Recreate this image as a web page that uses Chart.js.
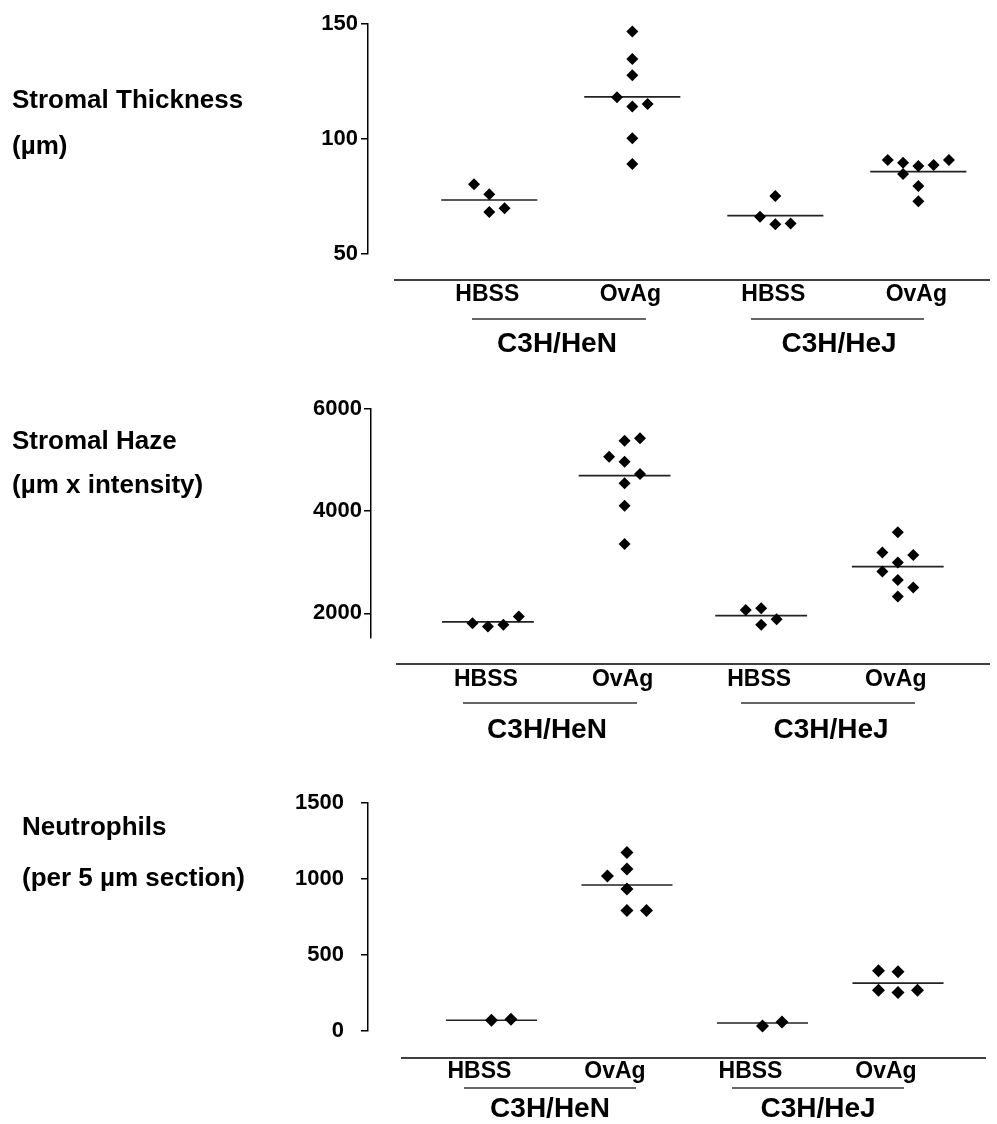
<!DOCTYPE html>
<html>
<head>
<meta charset="utf-8">
<script src="https://cdn.jsdelivr.net/npm/chart.js@4.4.1/dist/chart.umd.min.js"></script>
<style>
  html, body { margin: 0; padding: 0; background: #fff; }
  #wrap { position: relative; width: 997px; height: 1124px; }
  #wrap canvas { position: absolute; left: 0; top: 0; }
</style>
</head>
<body>
<div id="wrap">
  <canvas id="thicknessChart" width="997" height="1124"></canvas>
  <canvas id="hazeChart" width="997" height="1124"></canvas>
  <canvas id="neutrophilChart" width="997" height="1124"></canvas>
</div>
<script>
// groups along the x axis
const treatments = ["HBSS", "OvAg", "HBSS", "OvAg"];
const strains = ["C3H/HeN", "C3H/HeJ"];

// stromal thickness (µm)
const thicknessTicks = [50, 100, 150];
const thicknessValues = [
  [80.3, 76.0, 68.3, 69.9],
  [146.7, 134.8, 127.7, 118.1, 114.1, 115.2, 100.3, 89.1],
  [75.2, 66.2, 62.9, 63.3],
  [90.9, 89.7, 88.3, 88.7, 90.9, 84.8, 79.6, 72.9],
];
const thicknessColumns = [
  [-1, 0, 0, 1],
  [0, 0, 0, -1, 0, 1, 0, 0],
  [0, -1, 0, 1],
  [-2, -1, 0, 1, 2, -1, 0, 0],
];
const thicknessMeans = [73.5, 118.3, 66.7, 85.8];

// stromal haze (µm x intensity)
const hazeTicks = [2000, 4000, 6000];
const hazeValues = [
  [1806, 1740, 1773, 1936],
  [5380, 5426, 5067, 4969, 4728, 4545, 4108, 3358],
  [2066, 2099, 1773, 1884],
  [3587, 3188, 3143, 2992, 2816, 2654, 2503, 2327],
];
const hazeColumns = [
  [-1, 0, 1, 2],
  [0, 1, -1, 0, 1, 0, 0, 0],
  [-1, 0, 0, 1],
  [0, -1, 1, 0, -1, 0, 1, 0],
];
const hazeMeans = [1832, 4695, 1955, 2914];

// neutrophils (per 5 µm section)
const neutrophilTicks = [0, 500, 1000, 1500];
const neutrophilValues = [
  [70, 78],
  [1174, 1065, 1020, 935, 792, 792],
  [33, 59],
  [396, 389, 268, 253, 268],
];
const neutrophilColumns = [
  [0, 1],
  [0, 0, -1, 0, 0, 1],
  [0, 1],
  [-1, 0, -1, 0, 1],
];
const neutrophilMeans = [71, 961, 53, 315];

const FONT = "'Liberation Sans', Arial, Helvetica, sans-serif";
Chart.defaults.font.family = FONT;
Chart.defaults.color = "#000";

const MEAN_HALF = 0.336;

function buildDatasets(values, columns, means, colStep, radius) {
  const sets = [];
  values.forEach((group, g) => {
    const center = g + 1;
    sets.push({
      data: group.map((v, i) => ({ x: center + columns[g][i] * colStep, y: v })),
      pointStyle: "rectRot",
      pointRadius: radius,
      backgroundColor: "#000",
      borderColor: "#000",
      borderWidth: 0,
      clip: false,
      order: 0,
    });
    sets.push({
      data: [
        { x: center - MEAN_HALF, y: means[g] },
        { x: center + MEAN_HALF, y: means[g] },
      ],
      showLine: true,
      pointRadius: 0,
      borderColor: "#222",
      borderWidth: 1.6,
      clip: false,
      order: 1,
    });
  });
  return sets;
}

// titles, baseline, strain underlines and strain labels
function panelDecor(d) {
  return {
    id: "panelDecor",
    afterDraw(chart) {
      const ctx = chart.ctx;
      ctx.save();
      ctx.fillStyle = "#000";
      ctx.textAlign = "left";
      ctx.textBaseline = "alphabetic";
      ctx.font = "bold 26px " + FONT;
      d.titles.forEach((t) => ctx.fillText(t.text, d.titleX, t.y));

      ctx.strokeStyle = "#000";
      ctx.lineWidth = 1.5;
      ctx.beginPath();
      ctx.moveTo(d.baseline.x1, d.baseline.y);
      ctx.lineTo(d.baseline.x2, d.baseline.y);
      ctx.stroke();

      ctx.strokeStyle = "#333";
      d.underlines.forEach((u) => {
        ctx.beginPath();
        ctx.moveTo(u[0], d.underlineY);
        ctx.lineTo(u[1], d.underlineY);
        ctx.stroke();
      });

      ctx.textAlign = "center";
      ctx.font = "bold 28px " + FONT;
      strains.forEach((s, i) => ctx.fillText(s, d.strainX[i], d.strainY));
      ctx.restore();
    },
  };
}

function makeChart(id, p) {
  return new Chart(document.getElementById(id), {
    type: "scatter",
    data: { datasets: buildDatasets(p.values, p.columns, p.means, p.colStep, p.radius) },
    options: {
      responsive: false,
      animation: false,
      events: [],
      layout: { padding: { top: p.top, bottom: p.bottom, left: 0, right: 7 } },
      plugins: { legend: { display: false }, tooltip: { enabled: false } },
      scales: {
        x: {
          type: "linear",
          min: p.xMin,
          max: p.xMax,
          position: { y: p.xAxisAt },
          border: { display: false },
          grid: { display: false, drawTicks: false, tickLength: 0 },
          afterBuildTicks: (s) => {
            s.ticks = treatments.map((_, i) => ({ value: i + 1 }));
          },
          ticks: {
            autoSkip: false,
            maxRotation: 0,
            padding: p.xPad,
            labelOffset: p.xLabelOffset,
            color: "#000",
            font: { size: 23, weight: "bold" },
            callback: (v) => treatments[Math.round(v) - 1],
          },
        },
        y: {
          type: "linear",
          min: p.yMin,
          max: p.yMax,
          afterFit: (s) => {
            s.width = p.axisX;
          },
          afterBuildTicks: (s) => {
            s.ticks = p.ticks.map((v) => ({ value: v }));
          },
          border: { display: true, color: "#000", width: 1.5 },
          grid: { drawOnChartArea: false, drawTicks: true, tickLength: 7, color: "#000", lineWidth: 1.5 },
          ticks: {
            padding: p.yPad,
            color: "#000",
            font: { size: 22, weight: "bold" },
            callback: (v) => String(v),
          },
        },
      },
    },
    plugins: [panelDecor(p.decor)],
  });
}

makeChart("thicknessChart", {
  values: thicknessValues, columns: thicknessColumns, means: thicknessMeans, ticks: thicknessTicks,
  yMin: 50, yMax: 150, xMin: 0.152, xMax: 4.501, xAxisAt: 38.7,
  top: 24, bottom: 870, axisX: 368, yPad: 3, xPad: 1, xLabelOffset: -2,
  colStep: 0.107, radius: 6,
  decor: {
    titleX: 12, titles: [{ text: "Stromal Thickness", y: 108 }, { text: "(µm)", y: 154 }],
    baseline: { x1: 394, x2: 990, y: 280 },
    underlineY: 319, underlines: [[472, 646], [751, 924]],
    strainX: [557, 839], strainY: 352,
  },
});

makeChart("hazeChart", {
  values: hazeValues, columns: hazeColumns, means: hazeMeans, ticks: hazeTicks,
  yMin: 1516, yMax: 6000, xMin: 0.144, xMax: 4.675, xAxisAt: 1002,
  top: 409, bottom: 486, axisX: 371, yPad: 2, xPad: 2, xLabelOffset: -2,
  colStep: 0.113, radius: 6,
  decor: {
    titleX: 12, titles: [{ text: "Stromal Haze", y: 449 }, { text: "(µm x intensity)", y: 493 }],
    baseline: { x1: 396, x2: 990, y: 664 },
    underlineY: 703, underlines: [[463, 637], [741, 915]],
    strainX: [547, 831], strainY: 738,
  },
});

makeChart("neutrophilChart", {
  values: neutrophilValues, columns: neutrophilColumns, means: neutrophilMeans, ticks: neutrophilTicks,
  yMin: 0, yMax: 1500, xMin: 0.089, xMax: 4.679, xAxisAt: -178,
  top: 803, bottom: 93, axisX: 368, yPad: 17, xPad: 0, xLabelOffset: -12,
  colStep: 0.144, radius: 6.5,
  decor: {
    titleX: 22, titles: [{ text: "Neutrophils", y: 835 }, { text: "(per 5 µm section)", y: 886 }],
    baseline: { x1: 401, x2: 986, y: 1058 },
    underlineY: 1088, underlines: [[464, 636], [732, 904]],
    strainX: [550, 818], strainY: 1117,
  },
});
</script>
</body>
</html>
